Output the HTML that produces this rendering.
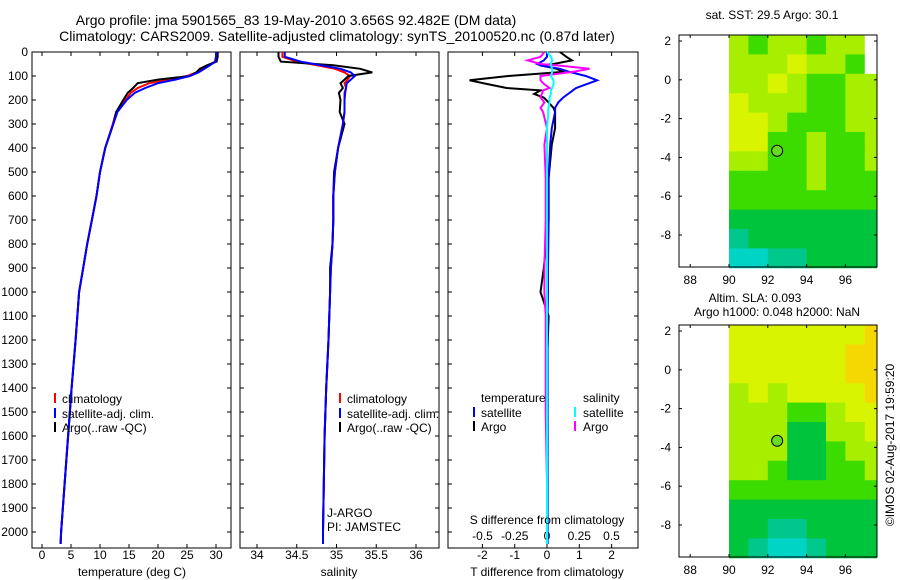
<!DOCTYPE html>
<html><head><meta charset="utf-8">
<style>
html,body{margin:0;padding:0;background:#fff;}
svg{display:block;font-family:"Liberation Sans",sans-serif;}
text{font-size:12px;fill:#000;}
</style></head>
<body>
<svg id="fig" width="900" height="580" viewBox="0 0 900 580">
  <text x="296" y="25" text-anchor="middle" style="font-size:14px">Argo profile: jma 5901565_83 19-May-2010 3.656S 92.482E (DM data)</text>
  <text x="337" y="41" text-anchor="middle" style="font-size:14px">Climatology: CARS2009. Satellite-adjusted climatology: synTS_20100520.nc (0.87d later)</text>
  <g id="panels"></g>
  <g id="maps"></g>
  <text transform="translate(894,445) rotate(-90)" text-anchor="middle">©IMOS 02-Aug-2017 19:59:20</text>
  <text x="772" y="19" text-anchor="middle">sat. SST: 29.5 Argo: 30.1</text>
  <text x="755" y="302" text-anchor="middle">Altim. SLA: 0.093</text>
  <text x="777" y="316" text-anchor="middle">Argo h1000: 0.048 h2000: NaN</text>
</svg>
<script>
// ---- profile data ----
const depthTicks = [0,100,200,300,400,500,600,700,800,900,1000,1100,1200,1300,1400,1500,1600,1700,1800,1900,2000];
const tempTicks = [0,5,10,15,20,25,30];
const salTicks = [34,34.5,35,35.5,36];
const tdiffTicks = [-2,-1,0,1,2];
const sdiffTicks = [-0.5,-0.25,0,0.25,0.5];
const sdiffTickLabels = ["-0.5","-0.25","0","0.25","0.5"];

const depthArgo = [0,20,40,55,70,85,100,115,130,150,170,200,250,300,400,500,600,700,800,900,1000,1200,1400,1600,1800,2000,2050];
const tempArgo  = [30.3,30.3,30.1,28.5,27.2,26.6,25.5,20,16.5,15.7,14.8,14,12.8,12.3,10.9,10,9.4,8.6,7.8,7.1,6.4,5.8,5.1,4.5,3.9,3.3,3.2];
const tempClim  = [30.0,30.0,29.8,28.8,27.8,26.6,25.0,22,18.5,16.5,15.3,14.4,12.8,12.2,10.9,10,9.4,8.6,7.8,7.1,6.4,5.8,5.1,4.5,3.9,3.3,3.2];
const tempSat   = [30.0,30.0,29.9,29.0,28.0,27.0,25.5,23,20,17.8,16,14.6,13,12.3,10.9,10,9.4,8.6,7.8,7.1,6.4,5.8,5.1,4.5,3.9,3.3,3.2];
const salArgo   = [34.27,34.27,34.3,34.96,35.3,35.45,35.15,35.1,35.05,35.08,35.03,35.05,35.04,35.1,35.02,34.97,34.96,34.96,34.95,34.92,34.92,34.9,34.87,34.85,34.84,34.83,34.83];
const salClim   = [34.32,34.32,34.5,34.75,34.98,35.1,35.17,35.14,35.1,35.12,35.1,35.1,35.1,35.08,35.02,34.98,34.96,34.96,34.95,34.93,34.92,34.9,34.87,34.85,34.84,34.83,34.83];
const salSat    = [34.35,34.35,34.55,34.8,35.05,35.18,35.23,35.18,35.13,35.12,35.11,35.1,35.1,35.08,35.02,34.98,34.96,34.96,34.95,34.93,34.92,34.9,34.87,34.85,34.84,34.83,34.83];

const depthDiff = [0,20,35,50,56,70,83,100,118,135,150,160,175,190,210,233,250,317,386,525,700,900,1000,1100,1300,1500,1800,2050];
const tdiffArgo = [0.4,0.6,0.77,0.2,-0.2,0.3,0.5,-1.2,-2.4,-1.8,-1.25,-0.2,-0.4,-0.1,0.05,0.2,0.25,0.25,0.15,0.05,0.05,-0.1,-0.2,0.05,0.0,0.0,0.0,0.0];
const tdiffSat  = [0.0,0.0,-0.1,-0.3,-0.2,0.4,0.7,1.2,1.55,1.2,0.9,0.8,0.65,0.5,0.35,0.25,0.25,0.15,0.1,0.05,0.05,0.03,0.03,0.02,0.02,0.02,0.02,0.02];
const sdiffArgo = [-0.02,-0.05,-0.15,-0.05,0.08,0.33,0.2,-0.05,-0.05,-0.02,0.02,-0.03,-0.04,-0.05,-0.02,-0.05,-0.03,0.0,-0.02,-0.01,-0.01,-0.02,-0.02,-0.01,-0.01,-0.01,0.0,0.0];
const sdiffSat  = [0.0,0.03,0.04,0.03,0.03,0.04,0.04,0.03,0.05,0.05,0.04,0.03,0.03,0.02,0.02,0.01,0.01,0.0,0.0,0.0,0.0,0.0,0.0,0.0,0.0,0.0,0.0,0.0];

// ---- map data (1-degree colour blocks, rows lat 2.3 -> -9.7, cols lon 90 -> 97.5) ----
const mapLonTicks = [88,90,92,94,96];
const mapLatTicks = [2,0,-2,-4,-6,-8];
const argoLon = 92.482;
const argoLat = -3.656;
const sstRows = ["LGLLGLLW","LLLYLLGW","LLYLGGLL","YLLLGGLL","YYLGGGLL","YYGGLGGL","LLGGLGGL","GGGGLGGG","GGGGGGGG","DDDDDDDD","TDDDDDDD","CCTTDDDD"];
const slaRows = ["YYYYYYYO","YYYYYYOO","YYYYYYOO","LYLYYYYO","LLLGGLYY","LLLDDLLY","LLLDDGLL","LLGDDGGL","GGGGGGGG","DDDDDDDD","DDTTDDDD","DTCCTDDD"];
const palette = {L:"#a8ee00",Y:"#d8f400",G:"#3cdc00",D:"#00c43c",T:"#00c88c",C:"#00d4c4",O:"#f4d800",W:"#ffffff"};

const NS="http://www.w3.org/2000/svg";
function el(tag, attrs, parent){const e=document.createElementNS(NS,tag);for(const k in attrs)e.setAttribute(k,attrs[k]);parent.appendChild(e);return e;}
const panels=document.getElementById('panels');
const top0=52, bot0=548, yPer=0.24;
const yD=d=>top0+d*yPer;

function frame(x0,x1,name){
  const r=el('rect',{x:x0,y:top0,width:x1-x0,height:bot0-top0,fill:'none',stroke:'#000','stroke-width':1},panels);
  
  
  depthTicks.forEach(d=>{
    el('line',{x1:x0,x2:x0+4,y1:yD(d),y2:yD(d),stroke:'#000'},panels);
    el('line',{x1:x1-4,x2:x1,y1:yD(d),y2:yD(d),stroke:'#000'},panels);
  });
}
function xticks(ticks,fx,labels,ly,name){
  ticks.forEach((t,i)=>{
    const x=fx(t);
    el('line',{x1:x,x2:x,y1:top0,y2:top0+4,stroke:'#000'},panels);
    el('line',{x1:x,x2:x,y1:bot0-4,y2:bot0,stroke:'#000'},panels);
    if(ly){const tx=el('text',{x:x,y:ly,'text-anchor':'middle'},panels);tx.textContent=labels?labels[i]:String(t);
      
      }
  });
}
function line(xs,ds,fx,color,name){
  const pts=xs.map((v,i)=>fx(v).toFixed(1)+','+yD(ds[i]).toFixed(1)).join(' ');
  const p=el('polyline',{points:pts,fill:'none',stroke:color,'stroke-width':2},panels);
  
  
}
function txt(x,y,s,name,anchor){const t=el('text',{x:x,y:y,'text-anchor':anchor||'start'},panels);t.textContent=s;
  
  return t;}
function legMark(x,y,color){el('line',{x1:x,x2:x,y1:y-10,y2:y,stroke:color,'stroke-width':2},panels);}

depthTicks.forEach(d=>{txt(28,yD(d)+4,String(d),'depth-tick-label','end');});

// Panel 1 temperature
const fxT=v=>42+v*5.8;
frame(32,231,'temperature-panel');
xticks(tempTicks,fxT,null,559,'temperature');
line(tempClim,depthArgo,fxT,'#ff0000','temp-climatology-line');
line(tempArgo,depthArgo,fxT,'#000000','temp-argo-line');
line(tempSat,depthArgo,fxT,'#0000ff','temp-satellite-line');
txt(132,576,'temperature (deg C)','temperature-axis-title','middle');
legMark(55,403,'#ff0000');txt(62,403,'climatology','legend-climatology');
legMark(55,418,'#0000ff');txt(62,418,'satellite-adj. clim.','legend-satellite');
legMark(55,432,'#000000');txt(62,432,'Argo(..raw -QC)','legend-argo');

// Panel 2 salinity
const fxS=v=>257+(v-34)*79.5;
frame(240,439,'salinity-panel');
xticks(salTicks,fxS,null,559,'salinity');
line(salClim,depthArgo,fxS,'#ff0000','sal-climatology-line');
line(salArgo,depthArgo,fxS,'#000000','sal-argo-line');
line(salSat,depthArgo,fxS,'#0000ff','sal-satellite-line');
txt(339,576,'salinity','salinity-axis-title','middle');
legMark(340,403,'#ff0000');txt(347,403,'climatology','legend-climatology-2');
legMark(340,418,'#0000ff');txt(347,418,'satellite-adj. clim.','legend-satellite-2');
legMark(340,432,'#000000');txt(347,432,'Argo(..raw -QC)','legend-argo-2');
txt(327,517,'J-ARGO','institution-label');
txt(327,531,'PI: JAMSTEC','pi-label');

// Panel 3 differences
const fxTD=v=>547+v*32.3;
const fxSD=v=>547+v*129;
frame(448,638,'difference-panel');
xticks(tdiffTicks,fxTD,null,559,'tdiff');
sdiffTicks.forEach((t,i)=>{txt(fxSD(t),540,sdiffTickLabels[i],'sdiff-tick-label','middle');});
line(tdiffArgo,depthDiff,fxTD,'#000000','tdiff-argo-line');
line(tdiffSat,depthDiff,fxTD,'#0000ff','tdiff-satellite-line');
line(sdiffArgo,depthDiff,fxSD,'#ff00ff','sdiff-argo-line');
line(sdiffSat,depthDiff,fxSD,'#00ffff','sdiff-satellite-line');
txt(547,524,'S difference from climatology','sdiff-axis-title','middle');
txt(547,576,'T difference from climatology','tdiff-axis-title','middle');
txt(481,402,'temperature','legend-temperature-heading');
txt(583,402,'salinity','legend-salinity-heading');
legMark(474,417,'#0000ff');txt(481,417,'satellite','legend-t-satellite');
legMark(474,431,'#000000');txt(481,431,'Argo','legend-t-argo');
legMark(575,417,'#00ffff');txt(583,417,'satellite','legend-s-satellite');
legMark(575,431,'#ff00ff');txt(583,431,'Argo','legend-s-argo');

// ---- maps ----
const maps=document.getElementById('maps');
function drawMap(top,bot,rows,name){
  const L=679,R=877;
  const fx=lon=>729+(lon-90)*19.4;
  const fy=lat=>top+(2.31-lat)*19.4;
  const g=el('g',{},maps);
  
  
  rows.forEach((row,ri)=>{
    const la0=2.31-ri, la1=Math.max(2.31-ri-1,-9.7);
    [...row].forEach((c,ci)=>{
      const lo0=90+ci, lo1=Math.min(91+ci,97.6);
      el('rect',{x:fx(lo0),y:fy(la0),width:fx(lo1)-fx(lo0)+0.5,height:fy(la1)-fy(la0)+0.5,fill:palette[c]},g);
    });
  });
  el('rect',{x:L,y:top,width:R-L,height:bot-top,fill:'none',stroke:'#000'},g);
  mapLonTicks.forEach(t=>{const x=fx(t);
    el('line',{x1:x,x2:x,y1:top,y2:top+3,stroke:'#000'},g);
    el('line',{x1:x,x2:x,y1:bot-3,y2:bot,stroke:'#000'},g);
    const tt=el('text',{x:x,y:bot+17,'text-anchor':'middle'},g);tt.textContent=String(t);
    
    });
  mapLatTicks.forEach(t=>{const y=fy(t);
    el('line',{x1:L,x2:L+3,y1:y,y2:y,stroke:'#000'},g);
    el('line',{x1:R-3,x2:R,y1:y,y2:y,stroke:'#000'},g);
    const tt=el('text',{x:L-8,y:y+4,'text-anchor':'end'},g);tt.textContent=String(t);
    
    });
  const c=el('circle',{cx:fx(argoLon),cy:fy(argoLat),r:5.5,fill:'#66dd22',stroke:'#000'},g);
  
  
}
drawMap(35,267,sstRows,'sst-map');
drawMap(325,557,slaRows,'sla-map');
</script>
</body></html>
